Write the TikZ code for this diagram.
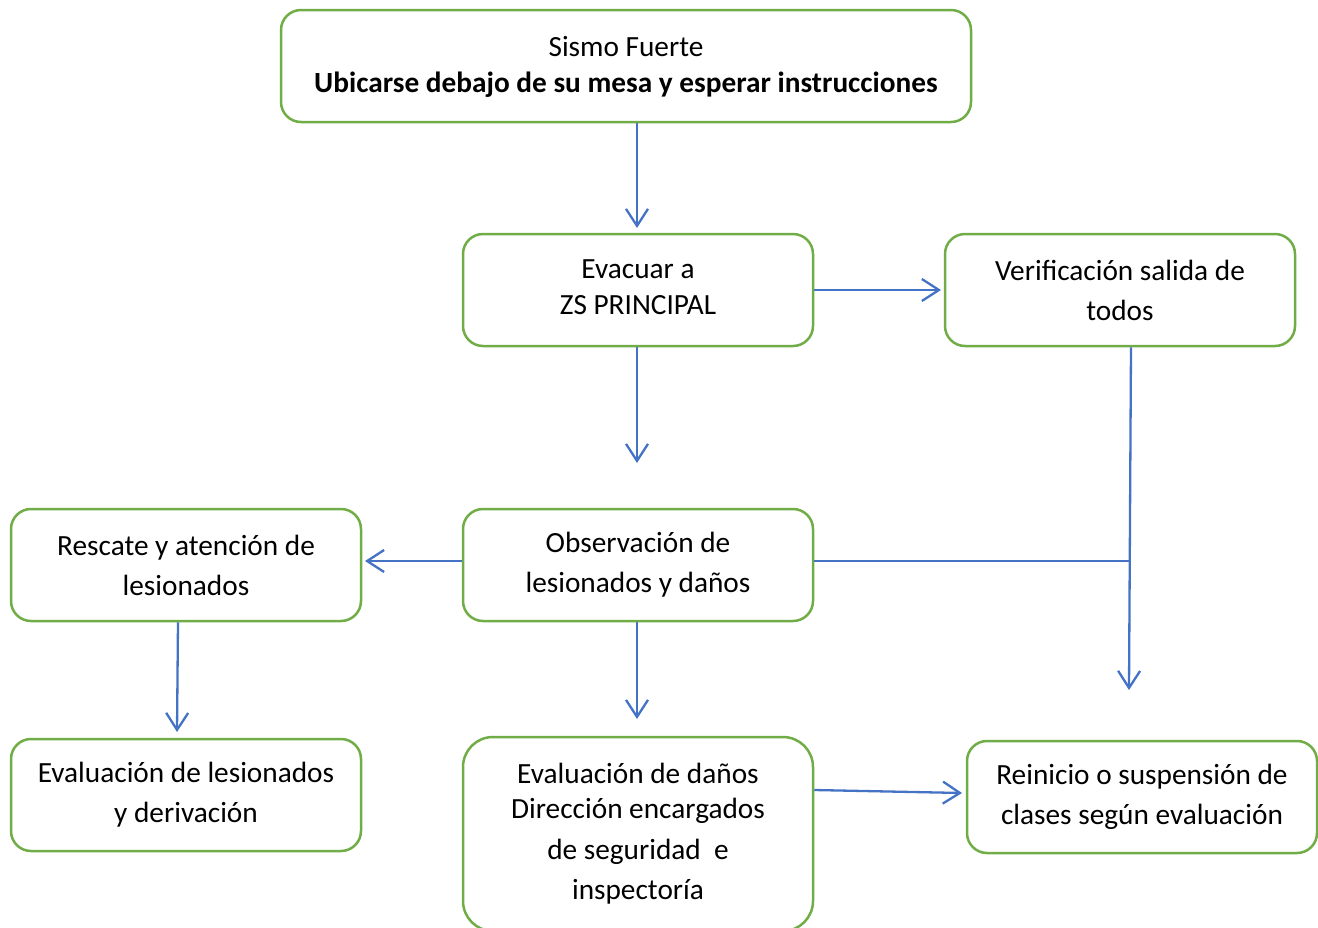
\documentclass[tikz,border=0pt]{standalone}
\usepackage{fontspec}
\setmainfont{Carlito}
\usetikzlibrary{arrows.meta}
\definecolor{boxgreen}{HTML}{70AD47}
\definecolor{lineblue}{HTML}{4472C4}
\tikzset{
  box/.style={draw=boxgreen, line width=2.5pt, rounded corners=20pt, minimum width=350pt, minimum height=112pt, align=center, inner sep=0pt, font=\fontsize{29.3}{40}\selectfont},
  conn/.style={draw=lineblue, line width=2.3pt, -{Straight Barb[length=17pt,width=22pt,line width=2.3pt]}},
  thinconn/.style={draw=lineblue, line width=1.3pt}
}
\begin{document}
\begin{tikzpicture}[x=1pt,y=-1pt]
\useasboundingbox (0,0) rectangle (1318,927);
\node[box, minimum width=690pt] (top) at (626,66) {Sismo Fuerte\\[-4pt]\textbf{Ubicarse debajo de su mesa y esperar instrucciones}\\[-36pt]\mbox{}};
\node[box] (evac) at (638,290) {Evacuar a\\[-4pt]ZS PRINCIPAL\\[-34pt]\mbox{}};
\node[box] (verif) at (1120,290) {Verificación salida de\\todos};
\node[box] (obs) at (638,565) {Observación de\\lesionados y daños};
\node[box] (resc) at (186,565) {Rescate y atención de\\lesionados};
\node[box] (evles) at (186,795) {Evaluación de lesionados\\y derivación};
\node[box, minimum height=194pt, rounded corners=30pt] (evdan) at (638,834) {Evaluación de daños\\[-5pt]Dirección encargados\\[1pt]de seguridad \ e\\inspectoría};
\node[box] (rein) at (1142,797) {Reinicio o suspensión de\\clases según evaluación};
\coordinate (a1) at (637,228);
\coordinate (a2) at (941,290);
\coordinate (a3) at (637,463);
\coordinate (a4) at (365,561);
\coordinate (j) at (1130,561);
\coordinate (a5) at (1129,690);
\coordinate (a6) at (177,732);
\coordinate (a7) at (637,719);
\coordinate (a8) at (962,793);
\draw[conn] (top.south -| a1) -- (a1);
\draw[conn] (evac.east |- a2) -- (a2);
\draw[conn] (evac.south -| a3) -- (a3);
\draw[conn] (obs.west |- a4) -- (a4);
\draw[thinconn] (obs.east |- j) -- (j);
\draw[conn] (1131,346) coordinate (vb) (verif.south -| vb) -- (a5);
\draw[conn] (178,621) coordinate (rb) (resc.south -| rb) -- (a6);
\draw[conn] (obs.south -| a7) -- (a7);
\draw[conn] (813,790) coordinate (eb) (evdan.east |- eb) -- (a8);
\end{tikzpicture}
\end{document}
